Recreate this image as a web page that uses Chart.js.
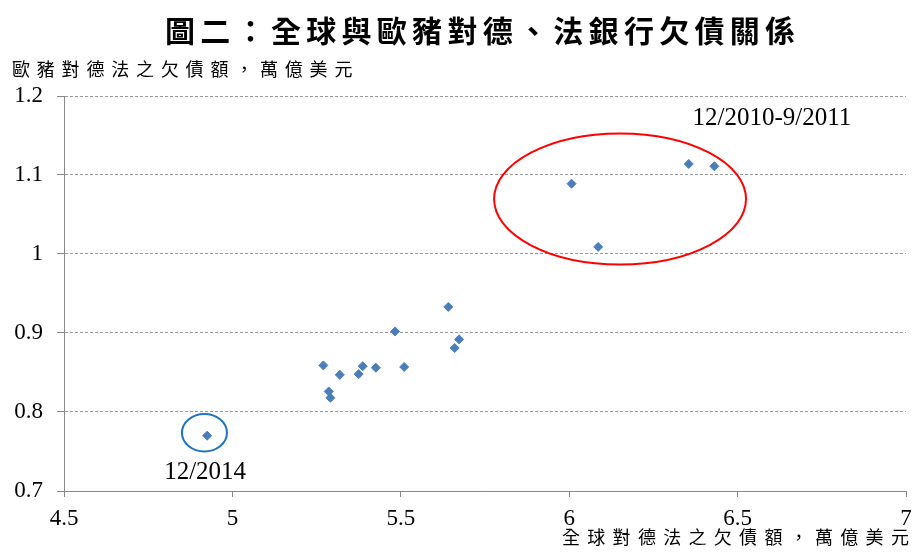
<!DOCTYPE html>
<html>
<head>
<meta charset="utf-8">
<script src="https://cdn.jsdelivr.net/npm/chart.js@4"></script>
<style>
  body { margin: 0; background: #fff; }
</style>
</head>
<body>
<canvas id="graficoDeuda" width="915" height="553"></canvas>
<script>
// datos
const xValues = [4.925, 5.270, 5.286, 5.291, 5.319, 5.375, 5.387, 5.426, 5.483, 5.510, 5.641, 5.660, 5.673, 6.007, 6.086, 6.355, 6.431];
const yValues = [0.770, 0.859, 0.826, 0.818, 0.847, 0.848, 0.858, 0.856, 0.902, 0.857, 0.933, 0.881, 0.892, 1.089, 1.009, 1.114, 1.111];
const xTicks = [4.5, 5, 5.5, 6, 6.5, 7];
const yTicks = [0.7, 0.8, 0.9, 1, 1.1, 1.2];

const titulo = "圖二：全球與歐豬對德、法銀行欠債關係";
const tituloY = "歐豬對德法之欠債額，萬億美元";
const tituloX = "全球對德法之欠債額，萬億美元";

// elipses y etiquetas en unidades de datos
const marcas = [
  { cx: 6.151, cy: 1.0696, rx: 0.374, ry: 0.0829, color: "#ff0000", label: "12/2010-9/2011", lx: 6.602, ly: 1.172 },
  { cx: 4.917, cy: 0.7738, rx: 0.0668, ry: 0.0237, color: "#1e73be", label: "12/2014", lx: 4.919, ly: 0.724 },
];

const puntos = xValues.map((x, i) => ({ x: x, y: yValues[i] }));

// texto CJK con paso fijo entre caracteres
function textoEspaciado(ctx, txt, x, y, paso) {
  Array.from(txt).forEach((c, i) => ctx.fillText(c, x + i * paso, y));
}

const textos = {
  id: "textos",
  afterDraw(chart) {
    const ctx = chart.ctx;
    const sx = chart.scales.x;
    const sy = chart.scales.y;
    ctx.save();
    marcas.forEach((m) => {
      const cx = sx.getPixelForValue(m.cx);
      const cy = sy.getPixelForValue(m.cy);
      const rx = Math.abs(sx.getPixelForValue(m.cx + m.rx) - cx);
      const ry = Math.abs(sy.getPixelForValue(m.cy + m.ry) - cy);
      ctx.beginPath();
      ctx.ellipse(cx, cy, rx, ry, 0, 0, Math.PI * 2);
      ctx.strokeStyle = m.color;
      ctx.lineWidth = 2;
      ctx.stroke();
      ctx.fillStyle = "#000";
      ctx.font = "25px 'Liberation Serif'";
      ctx.textAlign = "center";
      ctx.textBaseline = "middle";
      ctx.fillText(m.label, sx.getPixelForValue(m.lx), sy.getPixelForValue(m.ly));
    });

    ctx.fillStyle = "#000";
    ctx.textBaseline = "middle";
    ctx.textAlign = "left";
    ctx.font = "bold 30px 'Noto Sans CJK TC'";
    textoEspaciado(ctx, titulo, 165, 31, 35.3);

    ctx.font = "18px 'Noto Sans CJK TC'";
    textoEspaciado(ctx, tituloY, 12, 69, 24.8);
    textoEspaciado(ctx, tituloX, 562, 537, 25.3);
    ctx.restore();
  },
};

new Chart(document.getElementById("graficoDeuda"), {
  type: "scatter",
  data: {
    datasets: [
      {
        data: puntos,
        pointStyle: "rectRot",
        pointRadius: 4.5,
        pointBorderWidth: 1,
        backgroundColor: "#4a7ebb",
        borderColor: "#4a7ebb",
      },
    ],
  },
  options: {
    responsive: false,
    animation: false,
    layout: {
      padding: { top: 96, right: 9, left: 0, bottom: 0 },
    },
    plugins: {
      legend: { display: false },
      title: { display: false },
      tooltip: { enabled: false },
    },
    scales: {
      x: {
        type: "linear",
        min: 4.5,
        max: 7,
        afterFit(scale) {
          scale.height = 62;
          scale.paddingLeft = 0;
          scale.paddingRight = 0;
        },
        afterBuildTicks(scale) {
          scale.ticks = xTicks.map((v) => ({ value: v }));
        },
        ticks: {
          color: "#000",
          font: { family: "Liberation Serif", size: 23 },
          padding: 8,
          maxRotation: 0,
          callback: (v) => String(v),
        },
        grid: {
          drawOnChartArea: false,
          tickLength: 6,
          tickColor: "#888",
        },
        border: { color: "#888", width: 1 },
      },
      y: {
        type: "linear",
        min: 0.7,
        max: 1.2,
        afterFit(scale) {
          scale.width = 64;
          scale.paddingTop = 0;
          scale.paddingBottom = 0;
        },
        afterBuildTicks(scale) {
          scale.ticks = yTicks.map((v) => ({ value: v }));
        },
        ticks: {
          color: "#000",
          font: { family: "Liberation Serif", size: 23 },
          padding: 14,
          callback: (v) => String(Math.round(v * 10) / 10),
        },
        grid: {
          color: "#999",
          lineWidth: 1,
          tickLength: 7,
          tickColor: "#888",
          tickBorderDash: [],
        },
        border: { color: "#888", width: 1, dash: [3, 2] },
      },
    },
  },
  plugins: [textos],
});
</script>
</body>
</html>
